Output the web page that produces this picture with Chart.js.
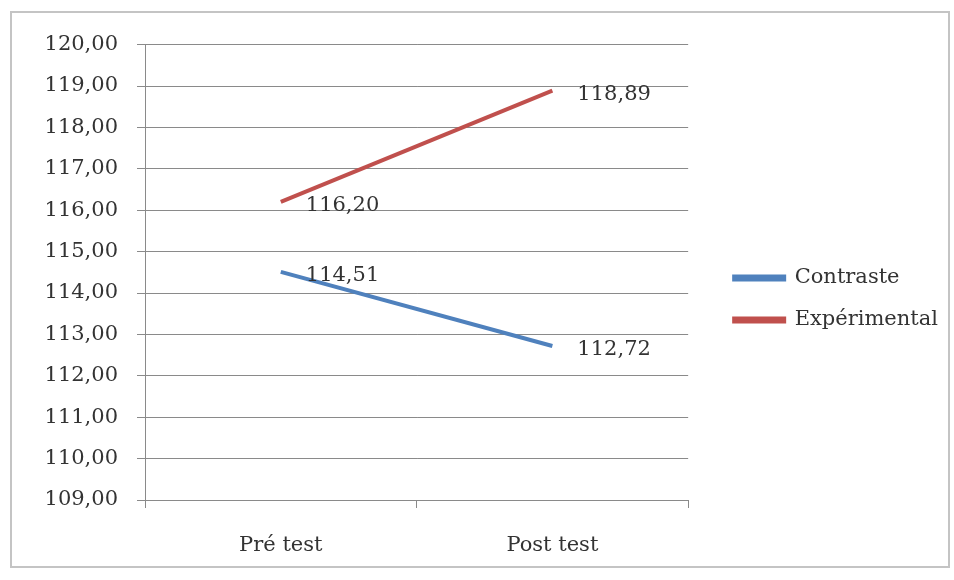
<!DOCTYPE html>
<html>
<head>
<meta charset="utf-8">
<script src="https://cdn.jsdelivr.net/npm/chart.js@4"></script>
<style>
    html, body { margin: 0; padding: 0; background: #fff; }
    #frame {
        position: absolute; left: 10px; top: 11px;
        width: 940px; height: 557px;
        border: 2px solid #c4c4c4; box-sizing: border-box;
    }
    #frame canvas { position: absolute; left: 0; top: 0; }
</style>
</head>
<body>
<div id="frame"><canvas id="lineChart"></canvas></div>
<script>
// data
const categories = ["Pré test", "Post test"];
const contraste = [114.51, 112.72];
const experimental = [116.20, 118.89];
const yTicks = { min: 109, max: 120, step: 1 };

const fmt = v => v.toFixed(2).replace(".", ",");
const FONT = "'DejaVu Serif', 'Liberation Serif', serif";

// value labels to the right of each point
const valueLabels = {
    id: "valueLabels",
    afterDatasetsDraw(chart) {
        const ctx = chart.ctx;
        ctx.save();
        ctx.font = "21px " + FONT;
        ctx.fillStyle = "#333";
        ctx.textAlign = "left";
        ctx.textBaseline = "middle";
        chart.data.datasets.forEach((ds, i) => {
            chart.getDatasetMeta(i).data.forEach((pt, j) => {
                ctx.fillText(fmt(ds.data[j]), pt.x + 25, pt.y + 4);
            });
        });
        ctx.restore();
    }
};

let canvas = document.getElementById("lineChart");
let ctx = canvas.getContext("2d");

new Chart(ctx, {
    type: "line",
    data: {
        labels: categories,
        datasets: [
            {
                label: "Contraste",
                data: contraste,
                borderColor: "#4f81bd",
                backgroundColor: "#4f81bd",
                borderWidth: 4,
                pointRadius: 0,
                tension: 0
            },
            {
                label: "Expérimental",
                data: experimental,
                borderColor: "#c0504d",
                backgroundColor: "#c0504d",
                borderWidth: 4,
                pointRadius: 0,
                tension: 0
            }
        ]
    },
    options: {
        responsive: true,
        maintainAspectRatio: false,
        animation: false,
        layout: { padding: { top: 25, bottom: 6, left: 20, right: 0 } },
        plugins: {
            legend: {
                position: "right",
                maxWidth: 280,
                labels: {
                    font: { family: FONT, size: 21 },
                    color: "#333",
                    boxWidth: 50,
                    boxHeight: 3,
                    padding: 21,
                    useBorderRadius: false
                }
            },
            tooltip: { enabled: false }
        },
        scales: {
            x: {
                offset: true,
                afterFit: axis => { axis.height = 60; },
                grid: {
                    offset: true,
                    drawOnChartArea: false,
                    color: "#8a8a8a",
                    tickLength: 8
                },
                border: { color: "#8a8a8a" },
                ticks: {
                    font: { family: FONT, size: 21 },
                    color: "#333",
                    padding: 25
                }
            },
            y: {
                min: yTicks.min,
                max: yTicks.max,
                afterFit: axis => { axis.width = 113; },
                grid: { color: "#8a8a8a", tickLength: 8 },
                border: { color: "#8a8a8a" },
                ticks: {
                    stepSize: yTicks.step,
                    font: { family: FONT, size: 21 },
                    color: "#333",
                    padding: 19,
                    callback: v => fmt(v)
                }
            },
            // empty spacer between plot and legend
            gap: {
                type: "linear",
                position: "right",
                grid: { display: false },
                border: { display: false },
                ticks: { display: false },
                afterFit: axis => { axis.width = 25; }
            }
        }
    },
    plugins: [valueLabels]
});
</script>
</body>
</html>
